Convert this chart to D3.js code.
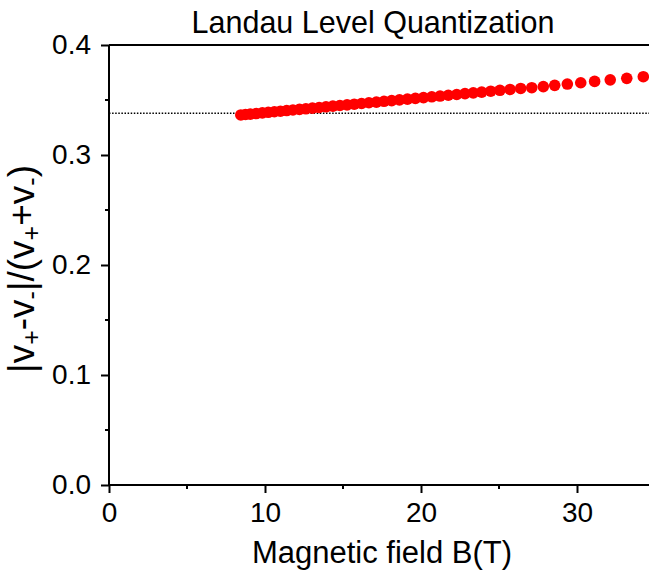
<!DOCTYPE html>
<html>
<head>
<meta charset="utf-8">
<script src="https://cdn.jsdelivr.net/npm/d3@7"></script>
<style>
    body { margin: 0; background: #fff; }
    svg { display: block; font-family: "Liberation Sans", Arial, sans-serif; }
</style>
</head>
<body>
<div id="chart"></div>
<script>
// magnetic field values (T)
const fieldB = [8.45, 8.75, 9.06, 9.44, 9.83, 10.21, 10.60, 10.99, 11.39, 11.79,
    12.21, 12.62, 13.04, 13.47, 13.91, 14.35, 14.80, 15.26, 15.72, 16.19,
    16.66, 17.14, 17.63, 18.12, 18.62, 19.13, 19.64, 20.16, 20.69, 21.22,
    21.75, 22.29, 22.82, 23.35, 23.89, 24.47, 25.06, 25.71, 26.39, 27.10,
    27.84, 28.57, 29.38, 30.24, 31.13, 32.13, 33.19, 34.25];

// |v+ - v-| / (v+ + v-)
const ratio = [0.3364, 0.3368, 0.3372, 0.3377, 0.3383, 0.3388, 0.3393, 0.3398, 0.3404, 0.3409,
    0.3415, 0.3420, 0.3426, 0.3432, 0.3438, 0.3444, 0.3450, 0.3456, 0.3462, 0.3468,
    0.3475, 0.3481, 0.3488, 0.3494, 0.3501, 0.3508, 0.3515, 0.3522, 0.3529, 0.3536,
    0.3543, 0.3550, 0.3558, 0.3565, 0.3572, 0.3580, 0.3588, 0.3596, 0.3605, 0.3612,
    0.3622, 0.3633, 0.3645, 0.3657, 0.3669, 0.3683, 0.3697, 0.3712];

const refLevel = 0.338;          // dotted reference line
const xTicks = [0, 10, 20, 30];
const xMinor = [5, 15, 25];
const yTicks = [0.0, 0.1, 0.2, 0.3, 0.4];
const yMinor = [0.05, 0.15, 0.25, 0.35];

const width = 649, height = 573;
const margin = { left: 109, top: 45, bottom: 485, right: 655 };

const svg = d3.select('#chart').append('svg')
    .attr('width', width)
    .attr('height', height);

const x = d3.scaleLinear().domain([0, 35]).range([margin.left, margin.right]);
const y = d3.scaleLinear().domain([0, 0.4]).range([margin.bottom, margin.top]);

// dotted reference line
svg.append('line')
    .attr('x1', x(0)).attr('x2', x(35))
    .attr('y1', y(refLevel)).attr('y2', y(refLevel))
    .attr('stroke', '#000')
    .attr('stroke-width', 1.6)
    .attr('stroke-dasharray', '1.5,1.6');

// data points
const points = fieldB.map((b, i) => [b, ratio[i]]);
svg.append('g').selectAll('circle')
    .data(points)
    .join('circle')
    .attr('cx', d => x(d[0]))
    .attr('cy', d => y(d[1]))
    .attr('r', 5.8)
    .attr('fill', '#ff0000');

// axes
const xAxis = svg.append('g')
    .attr('transform', `translate(0,${margin.bottom})`)
    .call(d3.axisBottom(x).tickValues(xTicks).tickSize(8).tickPadding(9).tickFormat(d3.format('d')));
xAxis.append('g').selectAll('line')
    .data(xMinor)
    .join('line')
    .attr('x1', d => x(d)).attr('x2', d => x(d))
    .attr('y1', 0).attr('y2', 4)
    .attr('stroke', '#000').attr('stroke-width', 2);

const yAxis = svg.append('g')
    .attr('transform', `translate(${margin.left},0)`)
    .call(d3.axisLeft(y).tickValues(yTicks).tickSize(8).tickPadding(10).tickFormat(d3.format('.1f')));
yAxis.append('g').selectAll('line')
    .data(yMinor)
    .join('line')
    .attr('x1', 0).attr('x2', -4)
    .attr('y1', d => y(d)).attr('y2', d => y(d))
    .attr('stroke', '#000').attr('stroke-width', 2);

[xAxis, yAxis].forEach(a => {
    a.select('.domain').attr('stroke-width', 2);
    a.selectAll('.tick line').attr('stroke-width', 2);
    a.selectAll('.tick text').attr('font-size', 28).attr('fill', '#000')
        .attr('font-family', '"Liberation Sans", Arial, sans-serif');
});
xAxis.select('.domain').attr('d', `M${margin.left},0H${margin.right}`);
yAxis.select('.domain').attr('d', `M0,${margin.bottom}V${margin.top}`);

// top frame
svg.append('line')
    .attr('x1', margin.left).attr('x2', margin.right)
    .attr('y1', margin.top).attr('y2', margin.top)
    .attr('stroke', '#000').attr('stroke-width', 2);

// title and labels
svg.append('text')
    .attr('x', 373).attr('y', 33)
    .attr('text-anchor', 'middle')
    .attr('font-size', 30.5)
    .text('Landau Level Quantization');

svg.append('text')
    .attr('x', 382).attr('y', 563)
    .attr('text-anchor', 'middle')
    .attr('font-size', 31)
    .text('Magnetic field B(T)');

const yLabel = svg.append('text')
    .attr('transform', 'translate(34,269) rotate(-90)')
    .attr('text-anchor', 'middle')
    .attr('font-size', 37);
const parts = [['|v', false], ['+', true], ['-v', false], ['-', true], ['|/(v', false],
    ['+', true], ['+v', false], ['-', true], [')', false]];
parts.forEach(([t, sub]) => {
    yLabel.append('tspan')
        .attr('font-size', sub ? 25 : 37)
        .attr('baseline-shift', sub ? '-22%' : '0')
        .text(t);
});
</script>
</body>
</html>
